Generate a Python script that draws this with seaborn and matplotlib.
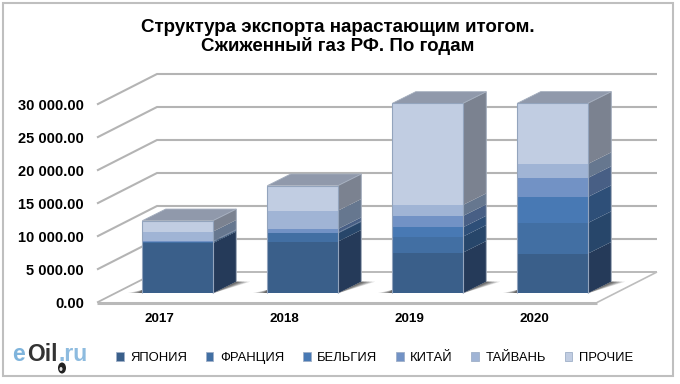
import numpy as np
import matplotlib
matplotlib.use("Agg")
import matplotlib.pyplot as plt
from matplotlib.patches import Polygon, Rectangle, Ellipse, Patch
from matplotlib.lines import Line2D
from matplotlib.transforms import Affine2D, IdentityTransform
import seaborn as sns

years = ["2017", "2018", "2019", "2020"]
series_names = ["ЯПОНИЯ", "ФРАНЦИЯ", "БЕЛЬГИЯ", "КИТАЙ", "ТАЙВАНЬ", "ПРОЧИЕ"]
japan = [7600, 7830, 6160, 6010]
france = [150, 1260, 2420, 4650]
belgium = [50, 100, 1410, 3940]
china = [100, 550, 1720, 2880]
taiwan = [1450, 2780, 1670, 2120]
others = [1650, 3790, 15400, 9190]
tick_values = [0, 5000, 10000, 15000, 20000, 25000, 30000]
tick_labels = ["0.00", "5 000.00", "10 000.00", "15 000.00", "20 000.00", "25 000.00", "30 000.00"]
title = "Структура экспорта нарастающим итогом.\nСжиженный газ РФ. По годам"

front_colors = ["#3a5f8a", "#426fa3", "#4879b4", "#7292c5", "#a0b4d5", "#c1cde2"]
side_colors = ["#253a59", "#27466a", "#2e4f78", "#485f85", "#66778f", "#7b8290"]
top_color = "#9099ab"
grid_color = "#b4b4b4"

sns.set_theme(style="white")
plt.rcParams["font.family"] = ["Liberation Sans", "DejaVu Sans"]

W, H = 680, 384
fig = plt.figure(figsize=(W / 100, H / 100), dpi=100, facecolor="white")
ax = fig.add_axes([97 / W, (H - 302.5) / H, 500 / W, 198 / H])
ax.patch.set_alpha(0)
px = Affine2D().scale(1, -1).translate(0, H)   # image pixels -> display

# stacked front faces, through seaborn
all_series = [japan, france, belgium, china, taiwan, others]
bottoms = np.zeros(len(years))
segments = []
for vals, col in zip(all_series, front_colors):
    n_before = len(ax.patches)
    sns.barplot(x=years, y=vals, bottom=bottoms, color=col, saturation=1,
                width=0.565, ax=ax, errorbar=None, linewidth=0, zorder=5)
    segments.append(list(ax.patches)[n_before:])
    bottoms = bottoms + np.array(vals)

ax.set_xlim(-0.5, 3.5)
ax.set_ylim(0, 30000)
ax.set_yticks(tick_values)
ax.set_yticklabels(tick_labels, fontsize=10.5, fontweight="bold", color="black")
ax.set_xticks(range(len(years)))
ax.set_xticklabels(years, fontsize=9.6, fontweight="bold", color="black")
ax.tick_params(axis="y", length=0, pad=9.5)
ax.tick_params(axis="x", length=0, pad=7.5)
for s in ax.spines.values():
    s.set_visible(False)
ax.grid(False)
ax.set_xlabel("")
ax.set_ylabel("")
fig.canvas.draw()

WALL = np.array([60.0, 30.5])    # front plane -> back wall, display pixels
BAR_SHIFT = 0.30                 # where the bars stand on the floor
DEPTH = np.array([23.5, 11.7])   # bar depth, display pixels
identity = IdentityTransform()
data_px = ax.transData


def d(x, y):
    return data_px.transform((x, y))


def line(pts, lw=1.5, color=grid_color, z=1):
    pts = np.array(pts)
    ax.add_line(Line2D(pts[:, 0], pts[:, 1], transform=identity, lw=lw, color=color,
                       zorder=z, clip_on=False, solid_capstyle="butt", solid_joinstyle="miter"))


def poly(pts, z=3, **kw):
    ax.add_patch(Polygon(np.array(pts), closed=True, transform=identity, clip_on=False,
                         linewidth=0, zorder=z, **kw))


# walls and floor
x0, x1 = ax.get_xlim()
for t in tick_values:
    a = d(x0, t)
    b = a + WALL
    c = d(x1, t) + WALL
    line([a, b, c], lw=1.5 if t else 1.3)
line([d(x1, 0), d(x1, 0) + WALL], lw=1.2, color="#bdbdbd")
line([d(x0, 0), d(x1, 0)], lw=2.2, color="#b9b9b9", z=2)

# bars: shift the front faces onto the floor and add the depth faces
shift = Affine2D().translate(*(WALL * BAR_SHIFT))
for series_idx, bars in enumerate(segments):
    for bar in bars:
        bar.set_transform(ax.transData + shift)
        bar.set_clip_on(False)
        xa, xb = bar.get_x(), bar.get_x() + bar.get_width()
        ya, yb = bar.get_y(), bar.get_y() + bar.get_height()
        ra = d(xb, ya) + WALL * BAR_SHIFT
        rb = d(xb, yb) + WALL * BAR_SHIFT
        poly([ra, rb, rb + DEPTH, ra + DEPTH], z=4, facecolor=side_colors[series_idx],
             edgecolor="none")

# top faces, floor shadows and rims, from the stack totals
for i, total in enumerate(bottoms):
    first = segments[0][i]
    xa, xb = first.get_x(), first.get_x() + first.get_width()
    s = WALL * BAR_SHIFT
    tl, tr = d(xa, total) + s, d(xb, total) + s
    bl, br = d(xa, 0) + s, d(xb, 0) + s
    poly([tl, tr, tr + DEPTH, tl + DEPTH], z=4, facecolor=top_color)
    for k, a in zip([1.0, 0.8, 0.6, 0.4, 0.2], [0.16, 0.2, 0.22, 0.25, 0.28]):
        poly([br, br + DEPTH + np.array([14 * k, 0]), br + DEPTH], z=3, facecolor="#303030", alpha=a)
        poly([bl + np.array([-14 * k, 0]), bl, bl + np.array([0, 3.0])], z=3,
             facecolor="#303030", alpha=a)
    line([bl, tl, tr, br], lw=0.8, color="#93a4bd", z=6)
    line([tr, tr + DEPTH, br + DEPTH], lw=0.7, color="#a3adbd", z=6)
    line([tl, tl + DEPTH, tr + DEPTH], lw=0.6, color="#a3adbd", z=6)

# title
fig.text(338 / W, 1 - 37 / H, title, ha="center", va="center", fontsize=13.5, fontweight="bold",
         color="black", linespacing=1.08)

# legend
handles = [Patch(facecolor=c, edgecolor="#9fb0c8", linewidth=0.6, label=n)
           for c, n in zip(front_colors, series_names)]
fig.legend(handles=handles, ncol=6, loc="center", bbox_to_anchor=(374.5 / W, 1 - 358 / H),
           frameon=False, fontsize=9.4, handlelength=0.6, handleheight=0.6,
           handletextpad=0.5, columnspacing=1.42, borderpad=0, labelcolor="black")

# frame
fig.add_artist(Rectangle((3, 2.5), 670, 373.5, transform=px, fill=False,
                         edgecolor="#bfbfbf", linewidth=1.5))

# logo
for txt, x, col in [("e", 12.5, "#7fb4dc"), ("Oil", 27, "#333333"), (".ru", 58.5, "#8dbbdf")]:
    fig.text(x / W, 1 - 361 / H, txt, ha="left", va="baseline", fontsize=16.5,
             color=col, fontweight="bold")
fig.add_artist(Ellipse((62, 368), 8, 11, transform=px, facecolor="#222222", edgecolor="none"))
fig.add_artist(Ellipse((61, 369), 3, 4, transform=px, facecolor="#dddddd", edgecolor="none"))

fig.savefig("out.png", dpi=100, facecolor="white")
